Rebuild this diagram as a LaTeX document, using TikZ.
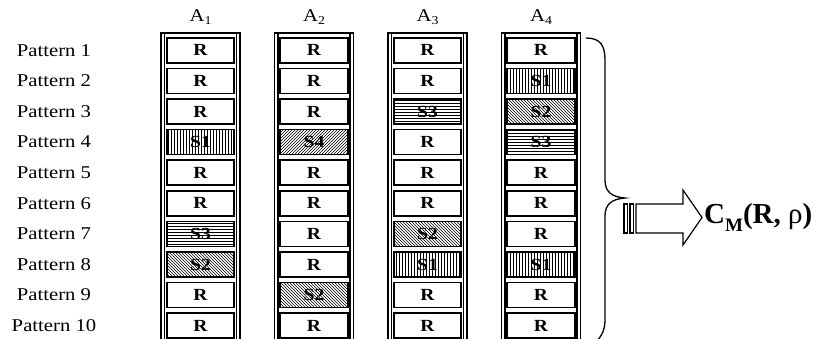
\documentclass[tikz,border=0pt]{standalone}
\usepackage{fontspec}
\setmainfont{Liberation Serif}[FakeStretch=1.15]
\newfontfamily\bigfont{Liberation Serif}
\usetikzlibrary{patterns}
\tikzset{
  cellbase/.style={draw, line width=1.7pt, minimum width=67.5pt, minimum height=25pt, inner sep=0pt, font=\fontsize{17}{17}\selectfont\bfseries},
  cellR/.style={cellbase},
  cellS1/.style={cellbase, pattern=vertical lines},
  cellS2/.style={cellbase, pattern=north west lines},
  cellS3/.style={cellbase, pattern=horizontal lines},
  cellS4/.style={cellbase, pattern=north east lines},
  framestyle/.style={line width=1.3pt},
  lbl/.style={font=\fontsize{18}{18}\selectfont, inner sep=0pt},
  brace/.style={line width=1.3pt},
  fatarrow/.style={line width=1.2pt, line join=miter},
}
\begin{document}
\begin{tikzpicture}[x=1pt,y=-1pt]
\useasboundingbox (0,0) rectangle (827,338);
\fill[white] (0,0) rectangle (827,338);
\begin{scope}
\clip (0,0) rectangle (827,338);
% row labels
\foreach \i in {1,...,10} {
  \pgfmathsetmacro{\cy}{50.3+30.6*(\i-1)}
  \node[lbl] (p\i) at (54,\cy) {Pattern \i};
}
% columns
\foreach \j/\lst in {1/{R,R,R,S1,R,R,S3,S2,R,R},2/{R,R,R,S4,R,R,R,R,S2,R},3/{R,R,S3,R,R,R,S2,S1,R,R},4/{R,S1,S2,S3,R,R,R,S1,R,R}} {
  \pgfmathsetmacro{\cx}{200.5+113.5*(\j-1)}
  \node[lbl] (h\j) at (\cx,17) {A\raisebox{-0.2em}{\fontsize{12}{12}\selectfont\j}};
  \draw[framestyle] (\cx-39.5,345) -- (\cx-39.5,33) -- (\cx+39.5,33) -- (\cx+39.5,345);
  \draw[framestyle] (\cx-36,33) -- (\cx-36,345);
  \draw[framestyle] (\cx+36,33) -- (\cx+36,345);
  \foreach \t [count=\i] in \lst {
    \pgfmathsetmacro{\cy}{50.3+30.6*(\i-1)}
    \node[cell\t] (c\j-\i) at (\cx,\cy) {\t};
  }
}
% brace
\draw[brace] (586,38) .. controls (600,38) and (605,45) .. (605,60) -- (605,180)
  .. controls (605,192) and (612,197) .. (625,198)
  .. controls (612,199) and (605,204) .. (605,216) -- (605,320)
  .. controls (605,332) and (600,338) .. (594,344);
\end{scope}
% fat arrow
\draw[fatarrow] (624,204) rectangle (627.5,233);
\draw[fatarrow] (630,204) rectangle (633.5,233);
\draw[fatarrow] (636,204) -- (683,204) -- (683,190) -- (702,217.5) -- (683,245) -- (683,233) -- (636,233) -- cycle;
\coordinate (tip) at (702,217.5);
\node[anchor=west, inner sep=0pt, font=\bigfont\fontsize{29}{29}\selectfont] (cm) at ([xshift=2pt]tip)
  {\bfseries C\raisebox{-0.3em}{\fontsize{19}{19}\selectfont M}(R, \mdseries ρ\bfseries )};
\end{tikzpicture}
\end{document}
